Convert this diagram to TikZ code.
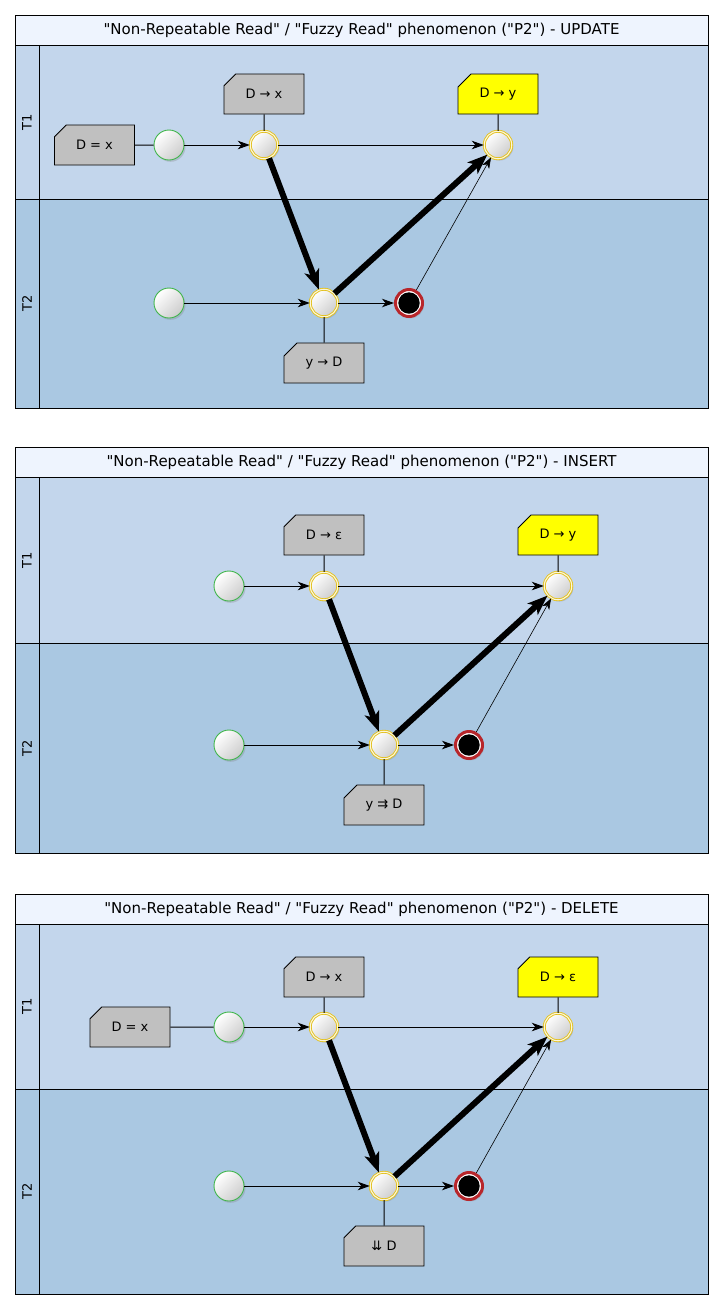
\documentclass[tikz,border=0pt]{standalone}
\usepackage{fontspec}
\setmainfont{DejaVu Sans}
\newfontfamily\plainfont{DejaVu Sans}
\usetikzlibrary{arrows.meta,shapes.misc,shadows}
\definecolor{titlebg}{HTML}{EEF4FE}
\definecolor{laneone}{HTML}{C3D6EC}
\definecolor{lanetwo}{HTML}{AAC8E2}
\definecolor{notegray}{HTML}{C0C0C0}
\definecolor{noteyellow}{HTML}{FFFF00}
\definecolor{startgreen}{HTML}{3FB54A}
\definecolor{taskyellow}{HTML}{E3C11E}
\definecolor{endred}{HTML}{B8262B}
\begin{document}
\begin{tikzpicture}[x=1pt,y=-1pt,
  frame/.style={draw=black,line width=0.9pt},
  titletext/.style={font=\plainfont\fontsize{15}{17}\selectfont},
  lanetext/.style={font=\plainfont\fontsize{13}{15}\selectfont,rotate=90},
  note/.style={chamfered rectangle,chamfered rectangle corners=north west,
    chamfered rectangle xsep=7pt,chamfered rectangle ysep=7pt,
    draw=black,line width=0.9pt,fill=notegray,minimum width=80pt,minimum height=40pt,
    inner sep=0pt,font=\plainfont\fontsize{13}{15}\selectfont},
  hinote/.style={note,fill=noteyellow},
  evshadow/.style={drop shadow={shadow xshift=1.5pt,shadow yshift=-1.8pt,opacity=0.3}},
  startev/.style={circle,minimum size=30pt,inner sep=0pt,draw=startgreen,line width=0.9pt,
    top color=white,bottom color=black!20,shading angle=45,evshadow},
  taskev/.style={circle,minimum size=27.5pt,inner sep=0pt,draw=taskyellow,line width=0.9pt,
    double=white!85!taskyellow,double distance=1.1pt,
    top color=white,bottom color=black!20,shading angle=45,evshadow},
  endev/.style={circle,minimum size=27pt,inner sep=0pt,draw=endred,line width=3pt,
    fill=white,evshadow,
    path picture={\fill[black] (path picture bounding box.center) circle (10.7pt);}},
  flow/.style={line width=1pt,-{Stealth[length=12pt,width=8.5pt,inset=3.5pt]}},
  bigflow/.style={line width=6pt,-{Stealth[length=20pt,width=15pt,inset=5pt]}},
  fineflow/.style={line width=0.6pt,-{Stealth[length=11pt,width=8pt,inset=3pt]}},
  assoc/.style={line width=1pt}
]
\useasboundingbox (0,0) rectangle (723,1310);

% ---------------- Diagram 1 : UPDATE ----------------
\fill[titlebg] (15,15) rectangle (708,45);
\fill[laneone] (15,45) rectangle (708,199);
\fill[lanetwo] (15,199) rectangle (708,408);
\draw[frame] (15,15) rectangle (708,408);
\draw[frame] (15,45) -- (708,45);
\draw[frame] (15,199) -- (708,199);
\draw[frame] (39,45) -- (39,408);
\node[titletext] (aT) at (361.5,30) {"Non-Repeatable Read" / "Fuzzy Read" phenomenon ("P2") - UPDATE};
\node[lanetext] (aL1) at (27,122) {T1};
\node[lanetext] (aL2) at (27,303.5) {T2};

\node[note] (aN0) at (94.5,145) {D = x};
\node[startev] (aS1) at (169,145) {};
\node[taskev] (aA) at (264,145) {};
\node[note] (aN1) at (264,94) {D → x};
\node[taskev] (aB) at (498,145) {};
\node[hinote] (aN2) at (498,94) {D → y};
\node[startev] (aS2) at (169,303) {};
\node[taskev] (aC) at (324,303) {};
\node[note] (aN3) at (324,363) {y → D};
\node[endev] (aE) at (409,303) {};

\draw[assoc] (aN0) -- (aS1);
\draw[assoc] (aN1) -- (aA);
\draw[assoc] (aN2) -- (aB);
\draw[assoc] (aN3) -- (aC);
\draw[flow] (aS1) -- (aA);
\draw[flow] (aA) -- (aB);
\draw[flow] (aS2) -- (aC);
\draw[flow] (aC) -- (aE);
\draw[bigflow] (aA) -- (aC);
\draw[bigflow] (aC) -- (aB);
\draw[fineflow] (aE) -- (aB);

% ---------------- Diagram 2 : INSERT ----------------
\fill[titlebg] (15,447) rectangle (708,477);
\fill[laneone] (15,477) rectangle (708,643);
\fill[lanetwo] (15,643) rectangle (708,853);
\draw[frame] (15,447) rectangle (708,853);
\draw[frame] (15,477) -- (708,477);
\draw[frame] (15,643) -- (708,643);
\draw[frame] (39,477) -- (39,853);
\node[titletext] (bT) at (361.5,462) {"Non-Repeatable Read" / "Fuzzy Read" phenomenon ("P2") - INSERT};
\node[lanetext] (bL1) at (27,560) {T1};
\node[lanetext] (bL2) at (27,748) {T2};

\node[startev] (bS1) at (229,586) {};
\node[taskev] (bA) at (324,586) {};
\node[note] (bN1) at (324,535) {D → ε};
\node[taskev] (bB) at (558,586) {};
\node[hinote] (bN2) at (558,535) {D → y};
\node[startev] (bS2) at (229,745) {};
\node[taskev] (bC) at (384,745) {};
\node[note] (bN3) at (384,805) {y ⇉ D};
\node[endev] (bE) at (469,745) {};

\draw[assoc] (bN1) -- (bA);
\draw[assoc] (bN2) -- (bB);
\draw[assoc] (bN3) -- (bC);
\draw[flow] (bS1) -- (bA);
\draw[flow] (bA) -- (bB);
\draw[flow] (bS2) -- (bC);
\draw[flow] (bC) -- (bE);
\draw[bigflow] (bA) -- (bC);
\draw[bigflow] (bC) -- (bB);
\draw[fineflow] (bE) -- (bB);

% ---------------- Diagram 3 : DELETE ----------------
\fill[titlebg] (15,894) rectangle (708,924);
\fill[laneone] (15,924) rectangle (708,1089);
\fill[lanetwo] (15,1089) rectangle (708,1294);
\draw[frame] (15,894) rectangle (708,1294);
\draw[frame] (15,924) -- (708,924);
\draw[frame] (15,1089) -- (708,1089);
\draw[frame] (39,924) -- (39,1294);
\node[titletext] (cT) at (361.5,909) {"Non-Repeatable Read" / "Fuzzy Read" phenomenon ("P2") - DELETE};
\node[lanetext] (cL1) at (27,1006.5) {T1};
\node[lanetext] (cL2) at (27,1191.5) {T2};

\node[note] (cN0) at (130,1027) {D = x};
\node[startev] (cS1) at (229,1027) {};
\node[taskev] (cA) at (324,1027) {};
\node[note] (cN1) at (324,977) {D → x};
\node[taskev] (cB) at (558,1027) {};
\node[hinote] (cN2) at (558,977) {D → ε};
\node[startev] (cS2) at (229,1186) {};
\node[taskev] (cC) at (384,1186) {};
\node[note] (cN3) at (384,1246) {⇊ D};
\node[endev] (cE) at (469,1186) {};

\draw[assoc] (cN0) -- (cS1);
\draw[assoc] (cN1) -- (cA);
\draw[assoc] (cN2) -- (cB);
\draw[assoc] (cN3) -- (cC);
\draw[flow] (cS1) -- (cA);
\draw[flow] (cA) -- (cB);
\draw[flow] (cS2) -- (cC);
\draw[flow] (cC) -- (cE);
\draw[bigflow] (cA) -- (cC);
\draw[bigflow] (cC) -- (cB);
\draw[fineflow] (cE) -- (cB);
\end{tikzpicture}
\end{document}
